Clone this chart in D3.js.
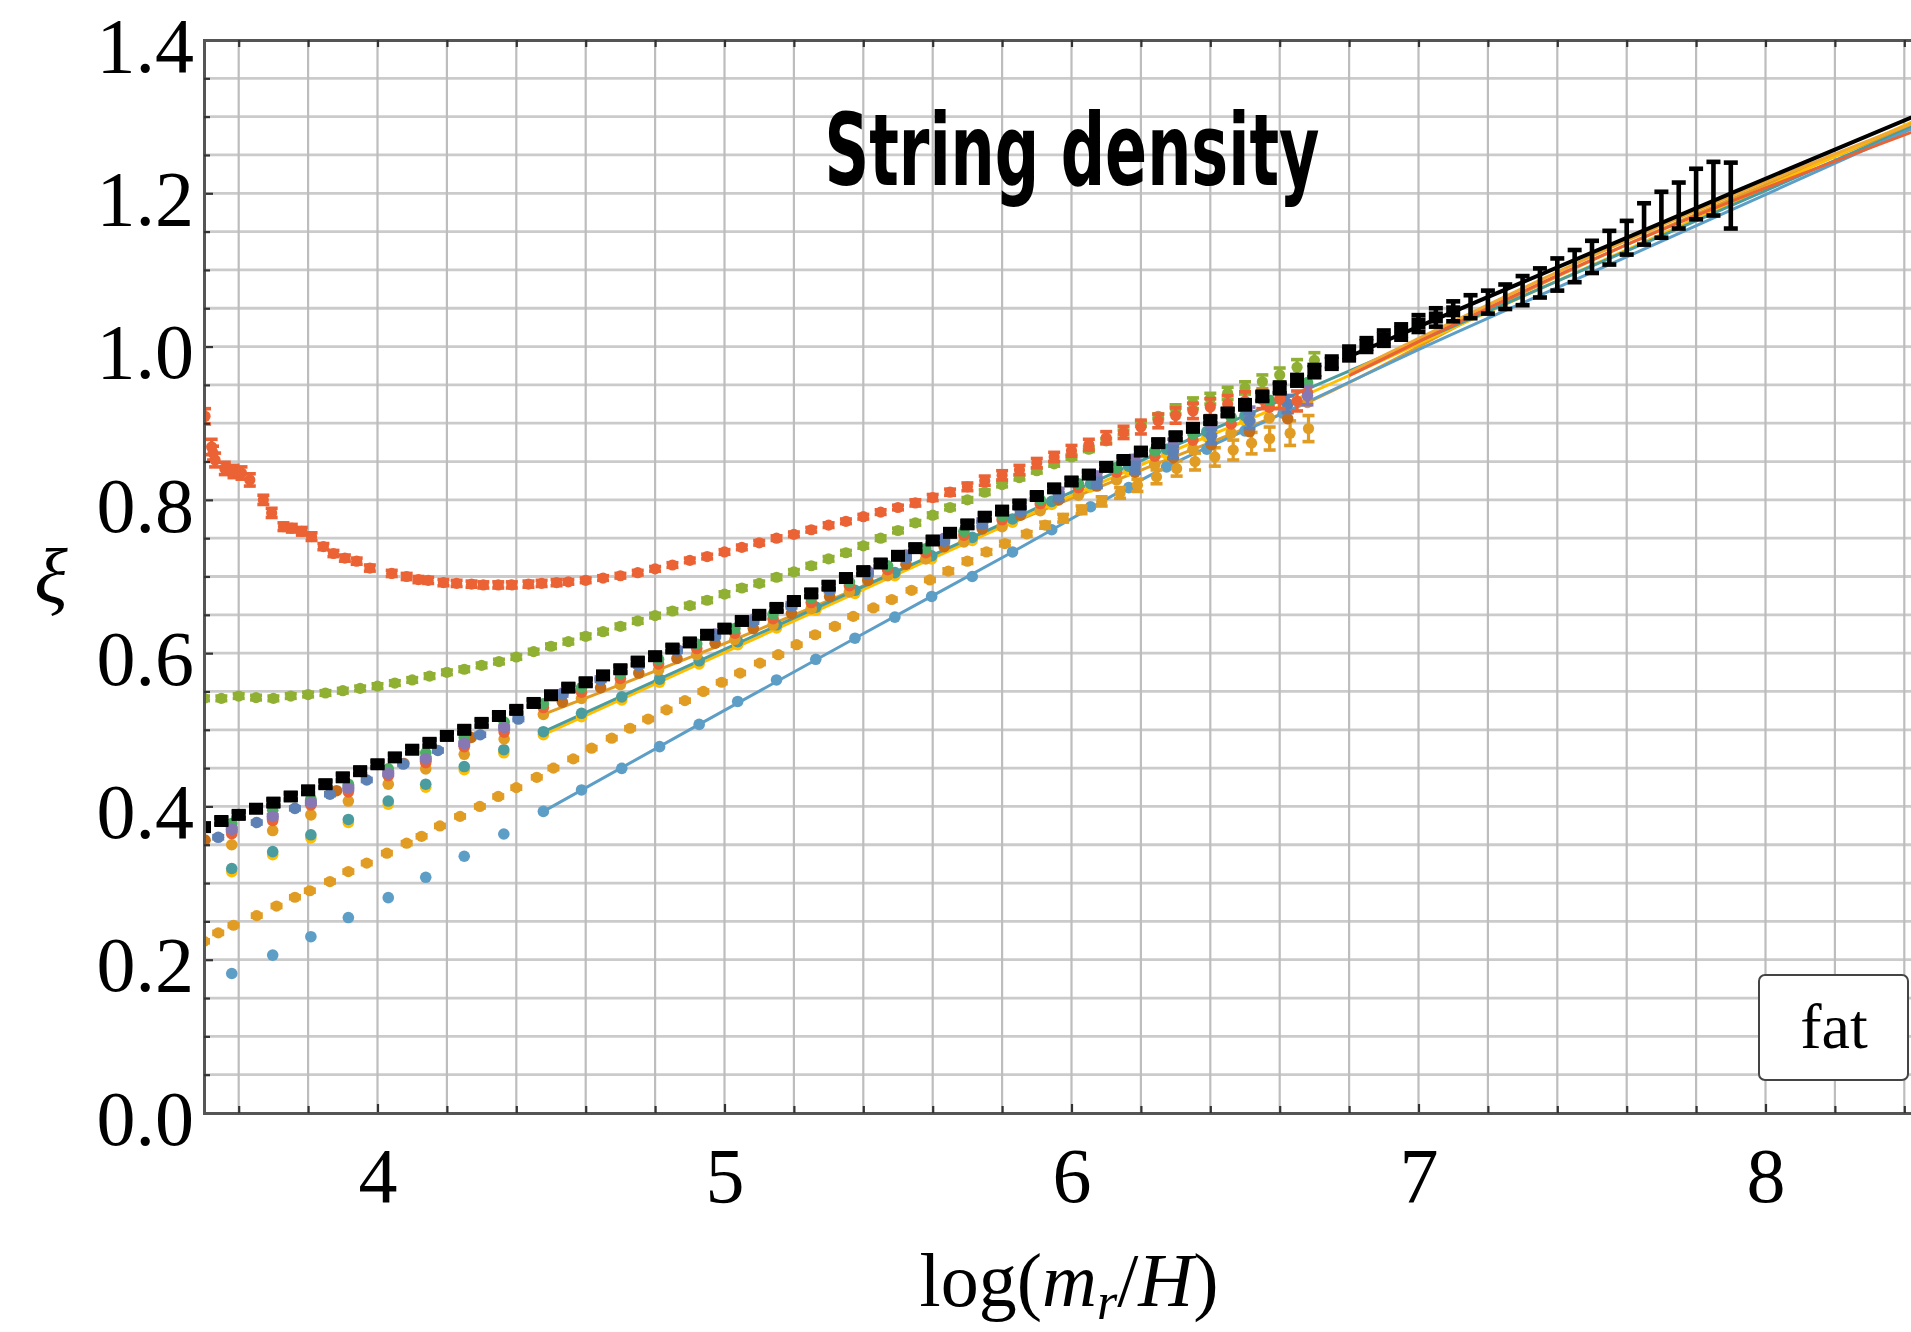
<!DOCTYPE html>
<html>
<head>
<meta charset="utf-8">
<script src="https://cdn.jsdelivr.net/npm/d3@7"></script>
<style>
  html, body { margin: 0; padding: 0; background: #ffffff; }
  svg { display: block; }
</style>
</head>
<body>
<svg id="chart" width="1911" height="1332"></svg>
<script>
// ---------------------------------------------------------------------------
// Tick labels
// ---------------------------------------------------------------------------
const xTickLabels = [4, 5, 6, 7, 8];
const yTickLabels = [0.0, 0.2, 0.4, 0.6, 0.8, 1.0, 1.2, 1.4];

// ---------------------------------------------------------------------------
// Reference run (black) with error bars
// ---------------------------------------------------------------------------
const blackX = [3.50,3.55,3.60,3.65,3.70,3.75,3.80,3.85,3.90,3.95,4.00,4.05,4.10,4.15,4.20,4.25,4.30,4.35,4.40,4.45,
  4.50,4.55,4.60,4.65,4.70,4.75,4.80,4.85,4.90,4.95,5.00,5.05,5.10,5.15,5.20,5.25,5.30,5.35,5.40,5.45,
  5.50,5.55,5.60,5.65,5.70,5.75,5.80,5.85,5.90,5.95,6.00,6.05,6.10,6.15,6.20,6.25,6.30,6.35,6.40,6.45,
  6.50,6.55,6.60,6.65,6.70,6.75,6.80,6.85,6.90,6.95,7.00,7.05,7.10,7.15,7.20,7.25,7.30,7.35,7.40,7.45,
  7.50,7.55,7.60,7.65,7.70,7.75,7.80,7.85,7.90];
const blackY = [0.373,0.381,0.389,0.397,0.405,0.413,0.421,0.429,0.438,0.446,0.455,0.464,0.474,0.483,0.492,0.500,0.509,0.518,0.526,0.535,
  0.545,0.555,0.562,0.571,0.579,0.589,0.596,0.606,0.614,0.624,0.632,0.642,0.650,0.659,0.668,0.678,0.688,0.698,0.707,0.717,
  0.727,0.737,0.747,0.757,0.768,0.778,0.786,0.794,0.805,0.815,0.824,0.833,0.843,0.852,0.863,0.874,0.883,0.894,0.904,0.914,
  0.924,0.935,0.946,0.956,0.968,0.979,0.991,1.002,1.011,1.019,1.030,1.038,1.046,1.052,1.058,1.065,1.073,1.083,1.094,1.105,
  1.117,1.129,1.142,1.160,1.172,1.184,1.199,1.206,1.197];
const blackErr = [0.004,0.004,0.004,0.004,0.004,0.004,0.004,0.004,0.004,0.004,0.004,0.004,0.004,0.004,0.004,0.004,0.004,0.004,0.004,0.004,
  0.004,0.004,0.004,0.004,0.004,0.004,0.004,0.004,0.004,0.004,0.004,0.004,0.004,0.004,0.004,0.004,0.004,0.004,0.004,0.004,
  0.004,0.004,0.004,0.004,0.004,0.004,0.004,0.004,0.004,0.004,0.004,0.004,0.004,0.004,0.004,0.004,0.004,0.004,0.004,0.004,
  0.006,0.006,0.007,0.007,0.008,0.008,0.009,0.009,0.010,0.010,0.011,0.012,0.013,0.015,0.015,0.016,0.019,0.019,0.021,0.021,
  0.021,0.022,0.022,0.027,0.030,0.030,0.033,0.035,0.043];

// ---------------------------------------------------------------------------
// Red run: high start, minimum near 4.3, then rising
// ---------------------------------------------------------------------------
const redX = [3.503,3.522,3.526,3.532,3.560,3.585,3.608,3.632,3.671,3.695,3.729,3.753,3.782,3.810,3.844,3.873,3.906,3.940,3.978,4.041,
  4.084,4.118,4.146,4.190,4.228,4.271,4.305,4.348,4.387,4.435,4.473,4.516,
  4.55,4.60,4.65,4.70,4.75,4.80,4.85,4.90,4.95,5.00,5.05,5.10,5.15,5.20,5.25,5.30,5.35,5.40,5.45,5.50,
  5.55,5.60,5.65,5.70,5.75,5.80,5.85,5.90,5.95,6.00,6.05,6.10,6.15,6.20,6.25,6.30,6.35,6.40,6.45,6.50,
  6.55,6.60,6.65];
const redY = [0.909,0.869,0.861,0.852,0.841,0.837,0.835,0.826,0.800,0.783,0.765,0.763,0.759,0.752,0.739,0.730,0.724,0.720,0.711,0.704,
  0.700,0.696,0.695,0.692,0.691,0.690,0.689,0.689,0.689,0.690,0.691,0.692,
  0.693,0.695,0.698,0.701,0.705,0.710,0.715,0.721,0.726,0.732,0.738,0.744,0.750,0.755,0.761,0.767,0.772,0.778,0.784,0.790,
  0.796,0.803,0.810,0.817,0.825,0.832,0.839,0.848,0.856,0.864,0.872,0.881,0.888,0.895,0.903,0.910,0.916,0.921,0.925,0.929,
  0.931,0.932,0.929];
const redErr = [0.010,0.010,0.009,0.009,0.008,0.008,0.008,0.008,0.006,0.006,0.005,0.005,0.005,0.005,0.004,0.004,0.004,0.004,0.004,0.004,
  0.004,0.004,0.004,0.004,0.004,0.004,0.004,0.004,0.004,0.004,0.004,0.004,
  0.003,0.003,0.003,0.003,0.003,0.003,0.003,0.003,0.003,0.003,0.003,0.003,0.003,0.003,0.003,0.003,0.003,0.003,0.003,0.003,
  0.004,0.004,0.004,0.005,0.006,0.006,0.006,0.006,0.006,0.007,0.007,0.008,0.008,0.009,0.009,0.010,0.010,0.011,0.011,0.012,
  0.012,0.013,0.013];

// ---------------------------------------------------------------------------
// Green run: flat start near 0.54
// ---------------------------------------------------------------------------
const greenX = [3.50,3.55,3.60,3.65,3.70,3.75,3.80,3.85,3.90,3.95,4.00,4.05,4.10,4.15,4.20,4.25,4.30,4.35,4.40,4.45,
  4.50,4.55,4.60,4.65,4.70,4.75,4.80,4.85,4.90,4.95,5.00,5.05,5.10,5.15,5.20,5.25,5.30,5.35,5.40,5.45,
  5.50,5.55,5.60,5.65,5.70,5.75,5.80,5.85,5.90,5.95,6.00,6.05,6.10,6.15,6.20,6.25,6.30,6.35,6.40,6.45,
  6.50,6.55,6.60,6.65,6.70];
const greenY = [0.541,0.541,0.544,0.542,0.541,0.544,0.546,0.548,0.551,0.554,0.557,0.561,0.565,0.570,0.575,0.579,0.584,0.589,0.595,0.602,
  0.609,0.615,0.622,0.628,0.635,0.642,0.649,0.655,0.662,0.669,0.677,0.685,0.691,0.699,0.706,0.714,0.723,0.731,0.740,0.750,
  0.760,0.770,0.780,0.790,0.800,0.810,0.820,0.829,0.838,0.847,0.856,0.866,0.877,0.888,0.899,0.909,0.918,0.926,0.932,0.939,
  0.946,0.954,0.963,0.973,0.982];
const greenErr = [0.003,0.003,0.003,0.003,0.003,0.003,0.003,0.003,0.003,0.003,0.003,0.003,0.003,0.003,0.003,0.003,0.003,0.003,0.003,0.003,
  0.003,0.003,0.003,0.003,0.003,0.003,0.003,0.003,0.003,0.003,0.003,0.003,0.003,0.003,0.003,0.003,0.003,0.003,0.003,0.003,
  0.003,0.003,0.003,0.003,0.003,0.003,0.003,0.003,0.003,0.003,0.003,0.003,0.003,0.003,0.003,0.003,
  0.006,0.007,0.007,0.008,0.008,0.009,0.009,0.010,0.010];

// ---------------------------------------------------------------------------
// Orange run: low start, steady rise
// ---------------------------------------------------------------------------
const orangeX = [3.500,3.541,3.585,3.652,3.709,3.762,3.805,3.863,3.916,3.969,4.027,4.084,4.127,4.180,4.238,4.295,4.348,4.400,4.459,4.507,
  4.564,4.617,4.675,4.728,4.780,4.833,4.886,4.939,4.992,5.045,5.102,5.155,5.208,5.261,5.318,5.371,5.429,5.482,5.539,5.592,
  5.645,5.700,5.755,5.808,5.871,5.924,5.976,6.029,6.087,6.140,6.190,6.245,6.303,6.356,6.413,6.466,6.519,6.571,6.630,6.683];
const orangeY = [0.224,0.235,0.245,0.2575,0.270,0.2815,0.290,0.302,0.315,0.326,0.339,0.352,0.361,0.3745,0.387,0.400,0.413,0.4245,0.438,0.450,
  0.462,0.476,0.489,0.502,0.514,0.526,0.538,0.550,0.562,0.574,0.587,0.598,0.611,0.624,0.635,0.648,0.659,0.670,0.682,0.6955,
  0.707,0.720,0.732,0.743,0.7556,0.767,0.776,0.787,0.798,0.809,0.819,0.830,0.841,0.850,0.856,0.865,0.874,0.880,0.887,0.893];
const orangeErr = [0.002,0.002,0.002,0.002,0.002,0.002,0.002,0.002,0.002,0.002,0.002,0.002,0.002,0.002,0.002,0.002,0.002,0.002,0.002,0.002,
  0.002,0.002,0.002,0.002,0.002,0.002,0.002,0.002,0.002,0.002,0.002,0.002,0.002,0.002,0.002,0.002,0.002,0.002,0.002,0.002,
  0.003,0.003,0.003,0.003,0.003,0.004,0.005,0.005,0.006,0.007,0.008,0.009,0.010,0.011,0.012,0.013,0.014,0.015,0.016,0.017];

// ---------------------------------------------------------------------------
// Light-blue and teal runs (coarser sampling), yellow companion
// ---------------------------------------------------------------------------
const coarseX = [3.580,3.698,3.808,3.916,4.031,4.139,4.250,4.364,4.478,4.588,4.704,4.813,4.927,5.038,5.150,5.263,5.376,5.491,5.597,5.714,
  5.830,5.943,6.055,6.165,6.274,6.390,6.500,6.610];
const lightBlueY = [0.182,0.206,0.230,0.255,0.281,0.3075,0.335,0.364,0.3935,0.4215,0.4497,0.478,0.507,0.537,0.565,0.592,0.6195,0.647,0.674,0.700,
  0.732,0.761,0.791,0.816,0.843,0.866,0.890,0.913];
const tealY = [0.319,0.341,0.363,0.383,0.407,0.429,0.452,0.474,0.4975,0.5215,0.543,0.566,0.590,0.615,0.637,0.660,0.682,0.705,0.727,0.751,
  0.775,0.798,0.821,0.844,0.866,0.889,0.910,0.931];
const yellowY = [0.315,0.337,0.359,0.379,0.403,0.425,0.448,0.470,0.4935,0.517,0.539,0.562,0.586,0.611,0.633,0.656,0.678,0.701,0.723,0.747,
  0.771,0.794,0.817,0.838,0.860,0.882,0.903,0.924];

// ---------------------------------------------------------------------------
// Runs clustered just below the black one
// ---------------------------------------------------------------------------
const clusterX = [3.580,3.698,3.808,3.916,4.031,4.139,4.250,4.365,
  4.478,4.588,4.700,4.810,4.920,5.030,5.140,5.250,5.360,5.470,5.580,5.690,5.800,5.910,6.020,6.130,6.240,6.350,6.460,6.570,6.680];
const green2Y = [0.3775,0.395,0.410,0.429,0.449,0.470,0.490,0.510,
  0.534,0.555,0.573,0.592,0.612,0.632,0.651,0.672,0.693,0.714,0.736,0.759,0.779,0.800,0.821,0.842,0.864,0.886,0.908,0.930,0.953];
const red2Y = [0.3645,0.3816,0.402,0.419,0.440,0.457,0.478,0.497,
  0.529,0.549,0.567,0.586,0.606,0.626,0.645,0.666,0.688,0.709,0.731,0.754,0.774,0.795,0.816,0.836,0.857,0.878,0.899,0.921,0.940];
const orange2Y = [0.350,0.3685,0.389,0.407,0.429,0.449,0.468,0.488,
  0.520,0.541,0.559,0.578,0.598,0.618,0.637,0.658,0.680,0.701,0.723,0.745,0.765,0.786,0.806,0.826,0.846,0.866,0.887,0.907,0.927];

const blueX = [3.541,3.652,3.762,3.863,3.969,4.074,4.174,4.296,4.406,
  4.533,4.643,4.753,4.863,4.973,5.083,5.193,5.303,5.413,5.523,5.633,5.743,5.853,5.963,6.073,6.183,6.293,6.403,6.513,6.623];
const blueY = [0.3597,0.379,0.3975,0.416,0.4345,0.4553,0.473,0.4935,0.514,
  0.546,0.565,0.584,0.603,0.622,0.641,0.661,0.682,0.703,0.724,0.746,0.768,0.785,0.804,0.822,0.842,0.862,0.883,0.903,0.925];
const blueErr = [0.002,0.002,0.002,0.002,0.002,0.002,0.002,0.002,0.002,
  0.002,0.002,0.002,0.002,0.002,0.002,0.002,0.002,0.002,0.002,0.002,0.003,0.004,0.005,0.006,0.007,0.008,0.009,0.010,0.011];

const purpleX = [3.580,3.698,3.808,3.916,4.031,4.139,4.250,4.365,
  4.533,4.643,4.753,4.863,4.973,5.083,5.193,5.303,5.413,5.523,5.633,5.743,5.853,5.963,6.073,6.183,6.293,6.403,6.513,6.623,6.680];
const purpleY = [0.370,0.387,0.405,0.424,0.443,0.462,0.482,0.503,
  0.548,0.567,0.586,0.605,0.625,0.644,0.664,0.686,0.707,0.728,0.750,0.773,0.791,0.811,0.831,0.852,0.872,0.893,0.912,0.925,0.936];
const purpleErr = [0.002,0.002,0.002,0.002,0.002,0.002,0.002,0.002,
  0.002,0.002,0.002,0.002,0.002,0.002,0.002,0.002,0.002,0.002,0.002,0.002,0.003,0.004,0.005,0.006,0.007,0.008,0.009,0.011,0.012];

const brownX = [3.503,3.882,4.076,4.270,
  4.533,4.643,4.753,4.863,4.973,5.083,5.193,5.303,5.413,5.523,5.633,5.743,5.853,5.963,6.073,6.183,6.293,6.403,6.513,6.623];
const brownY = [0.356,0.4205,0.456,0.490,
  0.536,0.555,0.574,0.593,0.613,0.632,0.652,0.674,0.695,0.716,0.739,0.762,0.780,0.800,0.818,0.836,0.855,0.872,0.889,0.906];

// ---------------------------------------------------------------------------
// Joined / fitted curves
// ---------------------------------------------------------------------------
const lightBlueLineX = [4.478,4.927,5.376,5.830,6.274,6.610,7.000,7.600,8.500];
const lightBlueLineY = [0.3935,0.507,0.6195,0.732,0.843,0.913,0.996,1.117,1.300];
const tealLineX = [4.478,4.927,5.376,5.830,6.274,6.610,7.200,8.500];
const tealLineY = [0.4975,0.590,0.682,0.775,0.866,0.931,1.046,1.302];
const yellowLineX = [4.478,4.927,5.376,5.830,6.274,6.610,7.200,8.500];
const yellowLineY = [0.4935,0.586,0.678,0.771,0.860,0.924,1.045,1.309];
const orange2LineX = [4.478,4.920,5.360,5.800,6.240,6.680,7.300,8.500];
const orange2LineY = [0.520,0.598,0.680,0.765,0.846,0.927,1.070,1.303];
const redFitX = [6.800,7.500,8.500];
const redFitY = [0.962,1.113,1.293];
const orangeFitX = [6.800,7.500,8.500];
const orangeFitY = [0.966,1.118,1.305];
const blackFitX = [6.800,7.000,7.900,8.500];
const blackFitY = [0.987,1.026,1.200,1.314];

// ---------------------------------------------------------------------------
// Layout
// ---------------------------------------------------------------------------
const svg = d3.select("#chart");
const plot = { left: 204, right: 1939, top: 40, bottom: 1113 };
const x = d3.scaleLinear().domain([3.5, 8.5]).range([plot.left, plot.right]);
const y = d3.scaleLinear().domain([0, 1.4]).range([plot.bottom, plot.top]);

const serif = "'Liberation Serif', 'Times New Roman', 'DejaVu Serif', serif";

svg.append("rect").attr("width", 1911).attr("height", 1332).attr("fill", "#ffffff");

svg.append("defs").append("clipPath").attr("id", "plotClip")
  .append("rect")
  .attr("x", plot.left).attr("y", plot.top)
  .attr("width", plot.right - plot.left).attr("height", plot.bottom - plot.top);

// Grid
const grid = svg.append("g");
grid.selectAll("line.h").data(y.ticks(28).filter(v => v > 0 && v < 1.4))
  .join("line")
  .attr("x1", plot.left).attr("x2", plot.right)
  .attr("y1", d => y(d)).attr("y2", d => y(d))
  .attr("stroke", "#cbcbcb").attr("stroke-width", 2.8);
grid.selectAll("line.v").data(x.ticks(25).filter(v => v > 3.5))
  .join("line")
  .attr("x1", d => x(d)).attr("x2", d => x(d))
  .attr("y1", plot.top).attr("y2", plot.bottom)
  .attr("stroke", "#bdbdbd").attr("stroke-width", 2.2);

// Title
svg.append("text")
  .attr("x", 1072).attr("y", 185)
  .attr("text-anchor", "middle")
  .attr("font-family", "'Liberation Sans Narrow', 'DejaVu Sans Condensed', 'Roboto', sans-serif")
  .attr("font-stretch", "condensed")
  .attr("font-weight", "bold")
  .attr("font-size", 100)
  .attr("textLength", 495)
  .attr("lengthAdjust", "spacingAndGlyphs")
  .attr("fill", "#000")
  .text("String density");

// Data layer
const layer = svg.append("g").attr("clip-path", "url(#plotClip)");
const zip = (xs, ys) => xs.map((v, i) => [v, ys[i]]);
const curve = d3.line().x(d => x(d[0])).y(d => y(d[1])).curve(d3.curveMonotoneX);

function drawLine(xs, ys, color, width) {
  layer.append("path")
    .datum(zip(xs, ys))
    .attr("d", curve)
    .attr("fill", "none")
    .attr("stroke", color)
    .attr("stroke-width", width)
    .attr("stroke-linejoin", "round");
}

function drawPoints(xs, ys, errs, color, r) {
  const data = xs.map((v, i) => ({ x: v, y: ys[i], e: errs ? errs[i] : 0 }));
  const g = layer.append("g");
  const withBars = data.filter(d => d.e > 0);
  g.selectAll("line.bar").data(withBars).join("line")
    .attr("x1", d => x(d.x)).attr("x2", d => x(d.x))
    .attr("y1", d => y(d.y - d.e)).attr("y2", d => y(d.y + d.e))
    .attr("stroke", color).attr("stroke-width", 3.2);
  [-1, 1].forEach(s => {
    g.selectAll(null).data(withBars).join("line")
      .attr("x1", d => x(d.x) - 6).attr("x2", d => x(d.x) + 6)
      .attr("y1", d => y(d.y + s * d.e)).attr("y2", d => y(d.y + s * d.e))
      .attr("stroke", color).attr("stroke-width", 3.6);
  });
  g.selectAll("circle").data(data).join("circle")
    .attr("cx", d => x(d.x)).attr("cy", d => y(d.y))
    .attr("r", r).attr("fill", color);
}

const C = {
  blue: "#5E81B5", orange: "#E19C24", green: "#8FB032", red: "#EB6235",
  purple: "#8778B3", brown: "#C56E1A", lightBlue: "#5D9EC7", yellow: "#FFBF00",
  teal: "#4A9C9E", green2: "#4BAE63"
};

// Curves
drawLine(orange2LineX, orange2LineY, C.orange, 3);
drawLine(yellowLineX, yellowLineY, C.yellow, 3);
drawLine(tealLineX, tealLineY, C.teal, 3);
drawLine(lightBlueLineX, lightBlueLineY, C.lightBlue, 3);
drawLine(orangeFitX, orangeFitY, "#F0A830", 3);
drawLine(redFitX, redFitY, C.red, 3);

// Points
drawPoints(coarseX, yellowY, null, C.yellow, 5.8);
drawPoints(coarseX, tealY, null, C.teal, 5.8);
drawPoints(coarseX, lightBlueY, null, C.lightBlue, 5.8);
drawPoints(orangeX, orangeY, orangeErr, C.orange, 5.6);
drawPoints(brownX, brownY, null, C.brown, 5.8);
drawPoints(clusterX, orange2Y, null, C.orange, 5.8);
drawPoints(clusterX, red2Y, null, C.red, 5.8);
drawPoints(clusterX, green2Y, null, C.green2, 5.8);
drawPoints(purpleX, purpleY, purpleErr, C.purple, 5.8);
drawPoints(blueX, blueY, blueErr, C.blue, 5.8);
drawPoints(greenX, greenY, greenErr, C.green, 5.6);
drawPoints(redX, redY, redErr, C.red, 5.6);

// Black run: square markers with capped error bars
(function () {
  const data = blackX.map((v, i) => ({ x: v, y: blackY[i], e: blackErr[i] }));
  const g = layer.append("g");
  g.selectAll("line.bar").data(data).join("line")
    .attr("x1", d => x(d.x)).attr("x2", d => x(d.x))
    .attr("y1", d => y(d.y - d.e)).attr("y2", d => y(d.y + d.e))
    .attr("stroke", "#000").attr("stroke-width", 4.6);
  [-1, 1].forEach(s => {
    g.selectAll(null).data(data).join("line")
      .attr("x1", d => x(d.x) - 7).attr("x2", d => x(d.x) + 7)
      .attr("y1", d => y(d.y + s * d.e)).attr("y2", d => y(d.y + s * d.e))
      .attr("stroke", "#000").attr("stroke-width", 4.6);
  });
  g.selectAll("rect").data(data.filter(d => d.x < 7.12)).join("rect")
    .attr("x", d => x(d.x) - 7).attr("y", d => y(d.y) - 6)
    .attr("width", 14).attr("height", 12)
    .attr("fill", "#000");
})();
drawLine(blackFitX, blackFitY, "#000", 4);

// Axes
const axisColor = "#555";
const yAxis = svg.append("g")
  .attr("transform", `translate(${plot.left},0)`)
  .call(d3.axisLeft(y).tickValues(yTickLabels).tickFormat(d3.format(".1f"))
        .tickSize(-9).tickPadding(10));
const yMinor = svg.append("g")
  .attr("transform", `translate(${plot.left},0)`)
  .call(d3.axisLeft(y).tickValues(y.ticks(28).filter(v => Math.abs(v * 5 - Math.round(v * 5)) > 1e-6))
        .tickFormat("").tickSize(-6));
const xAxis = svg.append("g")
  .attr("transform", `translate(0,${plot.bottom})`)
  .call(d3.axisBottom(x).tickValues(xTickLabels).tickFormat(d3.format("d"))
        .tickSize(-9).tickPadding(34));
const xMinor = svg.append("g")
  .attr("transform", `translate(0,${plot.bottom})`)
  .call(d3.axisBottom(x).tickValues(x.ticks(25).filter(v => v > 3.5 && Math.abs(v - Math.round(v)) > 1e-6))
        .tickFormat("").tickSize(-7));
const xTop = svg.append("g")
  .attr("transform", `translate(0,${plot.top})`)
  .call(d3.axisTop(x).tickValues(x.ticks(25).filter(v => v > 3.5))
        .tickFormat("").tickSize(-7));

[yAxis, yMinor, xAxis, xMinor, xTop].forEach(a => {
  a.select(".domain").attr("stroke", axisColor).attr("stroke-width", 3);
  a.selectAll(".tick line").attr("stroke", "#333").attr("stroke-width", 2.2);
  a.selectAll(".tick text")
    .attr("font-family", serif)
    .attr("font-size", 78)
    .attr("fill", "#000");
});
yAxis.selectAll(".tick text").attr("dy", "0.40em");
xAxis.selectAll(".tick text").attr("dy", "0.71em");

// Axis titles
const xl = svg.append("text")
  .attr("x", 1069).attr("y", 1306)
  .attr("text-anchor", "middle")
  .attr("font-family", serif).attr("font-size", 76).attr("fill", "#000");
xl.append("tspan").text("log(");
xl.append("tspan").attr("font-style", "italic").text("m");
xl.append("tspan").attr("font-style", "italic").attr("font-size", 52).attr("dy", 13).text("r");
xl.append("tspan").attr("dy", -13).text("/");
xl.append("tspan").attr("font-style", "italic").text("H");
xl.append("tspan").text(")");

svg.append("text")
  .attr("x", 51).attr("y", 603)
  .attr("text-anchor", "middle")
  .attr("font-family", serif).attr("font-style", "italic")
  .attr("font-size", 78).attr("fill", "#000")
  .text("ξ");

// Label box
svg.append("rect")
  .attr("x", 1759).attr("y", 975).attr("width", 149).attr("height", 105)
  .attr("rx", 6).attr("ry", 6)
  .attr("fill", "#fff").attr("stroke", "#444").attr("stroke-width", 2);
svg.append("text")
  .attr("x", 1834).attr("y", 1048)
  .attr("text-anchor", "middle")
  .attr("font-family", serif).attr("font-size", 64).attr("fill", "#000")
  .text("fat");
</script>
</body>
</html>
